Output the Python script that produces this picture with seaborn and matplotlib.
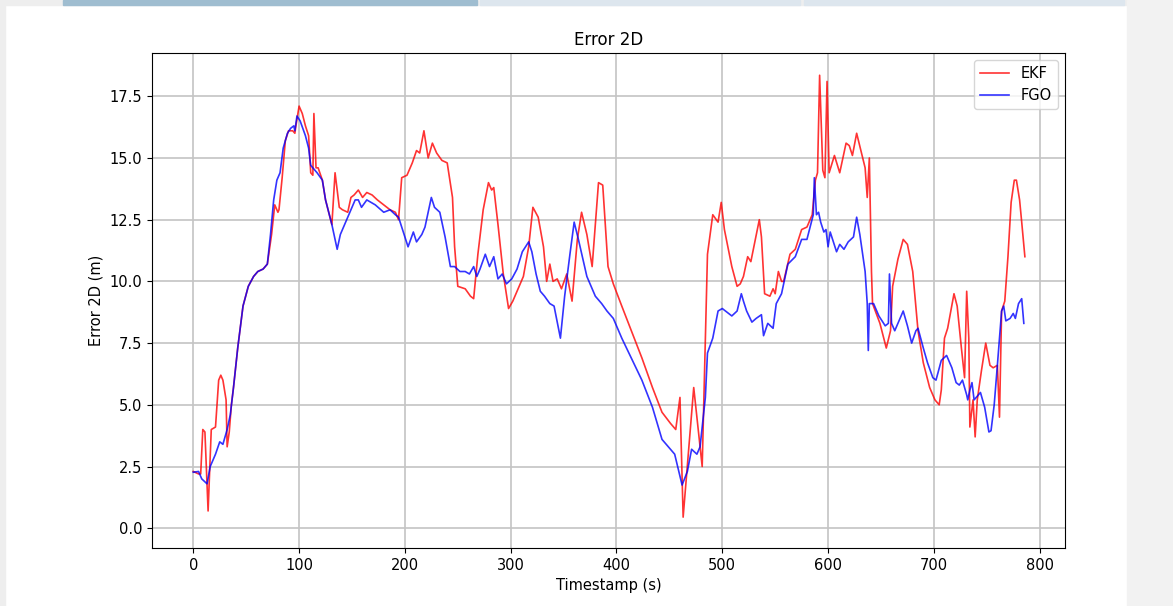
import pandas as pd
import seaborn as sns
import matplotlib
matplotlib.use('Agg')
import matplotlib.pyplot as plt
from matplotlib.patches import Rectangle

# EKF error samples (timestamp s, error m)
ekf_t = [0, 5, 7, 9, 11, 14, 17, 21, 24, 26, 28, 31, 32, 34, 36, 38, 42, 47, 52, 57,
         61, 66, 70, 74, 77, 80, 81, 84, 87, 90, 94, 96, 97, 100, 103, 106, 109, 111, 113, 114,
         116, 118, 122, 125, 128, 131, 134, 138, 141, 146, 149, 152, 156, 160, 164, 169, 174, 180, 186, 191,
         194, 197, 202, 207, 211, 214, 218, 222, 226, 230, 235, 240, 245, 247, 250, 257, 262, 265, 269, 274,
         279, 282, 284, 288, 293, 298, 302, 307, 312, 317, 321, 326, 331, 334, 337, 340, 344, 348, 353, 358,
         363, 367, 372, 377, 383, 387, 392, 397, 405, 415, 424, 434, 443, 451, 456, 460, 463, 473, 481, 486,
         491, 496, 499, 502, 509, 514, 517, 520, 524, 527, 535, 537, 540, 545, 548, 550, 553, 556, 558, 564,
         569, 575, 580, 585, 588, 590, 592, 595, 597, 599, 601, 606, 611, 617, 620, 623, 627, 631, 635, 637,
         639, 641, 642, 649, 655, 659, 661, 666, 671, 675, 680, 685, 690, 696, 701, 705, 707, 710, 713, 719,
         722, 726, 729, 731, 733, 734, 737, 739, 741, 745, 749, 753, 756, 760, 762, 764, 767, 770, 773, 776,
         778, 781, 783, 786]
ekf_err = [2.3, 2.2, 2.2, 4.0, 3.9, 0.7, 4.0, 4.1, 6.0, 6.2, 6.0, 5.2, 3.3, 3.9, 5.0, 5.7, 7.3, 9.0, 9.8, 10.2,
           10.4, 10.5, 10.7, 11.9, 13.1, 12.8, 12.9, 14.2, 15.7, 16.1, 16.1, 16.0, 16.3, 17.1, 16.8, 16.3, 15.9, 14.4, 14.3, 16.8,
           14.6, 14.6, 14.1, 13.3, 12.8, 12.3, 14.4, 13.0, 12.9, 12.8, 13.4, 13.5, 13.7, 13.4, 13.6, 13.5, 13.3, 13.1, 12.9, 12.8,
           12.5, 14.2, 14.3, 14.8, 15.3, 15.2, 16.1, 15.0, 15.6, 15.2, 14.9, 14.8, 13.4, 11.4, 9.8, 9.7, 9.4, 9.3, 11.1, 12.9,
           14.0, 13.7, 13.8, 12.3, 10.3, 8.9, 9.2, 9.7, 10.2, 11.4, 13.0, 12.6, 11.4, 10.0, 10.7, 10.0, 10.1, 9.7, 10.3, 9.2,
           11.7, 12.8, 11.9, 10.6, 14.0, 13.9, 10.6, 9.9, 9.0, 7.9, 6.9, 5.7, 4.7, 4.25, 4.0, 5.3, 0.45, 5.7, 2.5, 11.1,
           12.7, 12.4, 13.2, 12.1, 10.6, 9.8, 9.9, 10.2, 11.0, 10.8, 12.5, 11.8, 9.5, 9.4, 9.7, 9.5, 10.4, 10.0, 10.0, 11.1,
           11.3, 12.1, 12.2, 12.7, 14.1, 14.4, 18.35, 14.5, 14.2, 18.1, 14.4, 15.1, 14.4, 15.6, 15.5, 15.1, 16.0, 15.3, 14.6, 13.4,
           15.0, 10.4, 9.1, 8.3, 7.3, 8.0, 9.8, 10.9, 11.7, 11.5, 10.4, 8.0, 6.7, 5.7, 5.2, 5.0, 5.6, 7.7, 8.1, 9.5,
           9.0, 7.3, 6.1, 9.6, 7.7, 4.1, 5.2, 3.7, 5.2, 6.4, 7.5, 6.6, 6.5, 6.6, 4.5, 8.8, 9.2, 11.0, 13.2, 14.1,
           14.1, 13.3, 12.4, 11.0]

# FGO error samples
fgo_t = [0, 5, 8, 13, 16, 21, 25, 28, 32, 35, 38, 42, 47, 52, 57, 61, 66, 70, 73, 76,
         79, 82, 85, 89, 92, 95, 96, 98, 101, 106, 109, 111, 113, 117, 122, 125, 128, 131, 133, 136,
         139, 142, 145, 149, 153, 156, 159, 164, 172, 180, 186, 191, 194, 197, 203, 208, 211, 216, 219, 225,
         228, 233, 238, 243, 247, 252, 257, 261, 265, 268, 271, 276, 280, 284, 288, 292, 296, 301, 306, 311,
         317, 320, 324, 328, 332, 337, 341, 347, 351, 356, 360, 364, 372, 380, 386, 391, 397, 405, 415, 424,
         434, 443, 451, 455, 462, 467, 471, 476, 479, 484, 486, 491, 496, 500, 509, 514, 518, 520, 523, 528,
         532, 537, 539, 543, 548, 551, 556, 562, 569, 575, 580, 583, 586, 587, 589, 591, 593, 596, 598, 600,
         602, 608, 611, 615, 619, 624, 627, 630, 635, 637, 638, 639, 643, 648, 654, 657, 658, 660, 663, 666,
         671, 675, 679, 683, 685, 690, 694, 699, 702, 707, 712, 717, 721, 724, 727, 731, 732, 734, 736, 738,
         740, 744, 748, 752, 754, 757, 760, 764, 766, 768, 772, 775, 777, 780, 783, 785]
fgo_err = [2.27, 2.3, 2.0, 1.8, 2.5, 3.0, 3.5, 3.4, 4.0, 4.6, 5.7, 7.3, 9.0, 9.8, 10.2, 10.4, 10.5, 10.7, 11.9, 13.3,
           14.1, 14.4, 15.4, 16.0, 16.2, 16.3, 16.1, 16.7, 16.5, 15.9, 15.4, 14.7, 14.6, 14.4, 14.1, 13.3, 12.8, 12.3, 11.9, 11.3,
           11.9, 12.2, 12.5, 12.9, 13.3, 13.3, 13.0, 13.3, 13.1, 12.8, 12.9, 12.7, 12.6, 12.2, 11.4, 12.0, 11.6, 11.9, 12.2, 13.4,
           13.0, 12.8, 11.8, 10.6, 10.6, 10.4, 10.4, 10.3, 10.6, 10.2, 10.5, 11.1, 10.6, 11.0, 10.1, 10.3, 9.9, 10.1, 10.5, 11.2,
           11.6, 11.2, 10.3, 9.6, 9.4, 9.1, 9.0, 7.7, 9.4, 11.1, 12.4, 11.7, 10.2, 9.4, 9.1, 8.8, 8.5, 7.7, 6.8, 6.0,
           4.9, 3.6, 3.2, 3.0, 1.75, 2.3, 3.2, 3.0, 3.3, 5.3, 7.1, 7.7, 8.8, 8.9, 8.6, 8.8, 9.5, 9.2, 8.8, 8.35,
           8.5, 8.65, 7.8, 8.3, 8.1, 9.1, 9.5, 10.7, 11.0, 11.7, 11.7, 12.2, 12.7, 14.2, 12.7, 12.8, 12.4, 12.0, 12.1, 11.4,
           12.0, 11.2, 11.5, 11.3, 11.6, 11.8, 12.6, 11.9, 10.4, 9.1, 7.2, 9.1, 9.1, 8.6, 8.2, 8.3, 10.3, 8.3, 8.0, 8.3,
           8.8, 8.2, 7.5, 8.0, 8.1, 7.3, 6.7, 6.1, 6.0, 6.8, 7.0, 6.5, 5.9, 5.8, 6.0, 5.4, 5.2, 5.6, 5.9, 5.2,
           5.3, 5.5, 4.9, 3.9, 3.95, 5.0, 6.6, 8.8, 9.0, 8.4, 8.5, 8.7, 8.5, 9.1, 9.3, 8.3]

ekf_df = pd.DataFrame({'t': ekf_t, 'err': ekf_err})
fgo_df = pd.DataFrame({'t': fgo_t, 'err': fgo_err})

fig = plt.figure(figsize=(11.73, 6.06), dpi=100)
fig.patch.set_facecolor('white')

# screenshot frame around the figure
fig.patches.append(Rectangle((0, 0.992), 1, 0.008, transform=fig.transFigure, color='#eeeeee', zorder=0))
fig.patches.append(Rectangle((0, 0), 0.004, 1, transform=fig.transFigure, color='#eeeeee', zorder=0))
fig.patches.append(Rectangle((0.961, 0), 0.039, 1, transform=fig.transFigure, color='#f2f2f2', zorder=0))
fig.patches.append(Rectangle((0.054, 0.992), 0.353, 0.008, transform=fig.transFigure, color='#9fbdd0', zorder=1))
fig.patches.append(Rectangle((0.409, 0.992), 0.273, 0.008, transform=fig.transFigure, color='#dde6ee', zorder=1))
fig.patches.append(Rectangle((0.685, 0.992), 0.273, 0.008, transform=fig.transFigure, color='#dde6ee', zorder=1))

ax = fig.add_axes([0.1296, 0.0957, 0.7784, 0.8168])

sns.lineplot(data=ekf_df, x='t', y='err', color='red', alpha=0.8, linewidth=1.2, label='EKF', ax=ax)
sns.lineplot(data=fgo_df, x='t', y='err', color='blue', alpha=0.8, linewidth=1.2, label='FGO', ax=ax)

ax.set_xlim(-39, 824)
ax.set_ylim(-0.8, 19.25)
ax.set_title('Error 2D', fontsize=12)
ax.set_xlabel('Timestamp (s)', fontsize=10.5)
ax.set_ylabel('Error 2D (m)', fontsize=10.5)
ax.tick_params(labelsize=10.5)
ax.grid(True, color='#c4c4c4', linewidth=1.2)
ax.legend(loc='upper right', fontsize=10.5)

fig.savefig('out.png', dpi=100)
